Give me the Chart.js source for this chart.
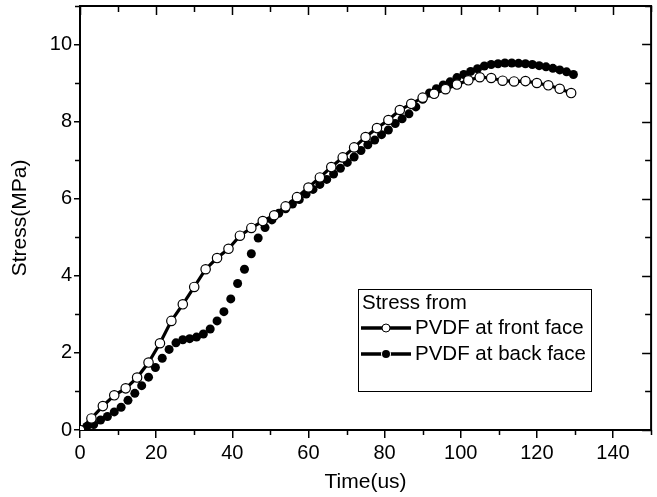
<!DOCTYPE html>
<html>
<head>
<meta charset="utf-8">
<script src="https://cdn.jsdelivr.net/npm/chart.js@4"></script>
<style>
  html, body { margin: 0; padding: 0; background: #fff; }
  #wrap { width: 657px; height: 497px; overflow: hidden; }
</style>
</head>
<body>
<div id="wrap"><canvas id="stressChart" width="657" height="497"></canvas></div>
<script>
// time (us) and stress (MPa)
const frontTime = [0, 3, 6, 9, 12, 15, 18, 21, 24, 27, 30, 33, 36, 39, 42, 45, 48, 51, 54, 57,
    60, 63, 66, 69, 72, 75, 78, 81, 84, 87, 90, 93, 96, 99, 102, 105, 108, 111, 114, 117,
    120, 123, 126, 129];
const frontStress = [0, 0.3, 0.62, 0.9, 1.08, 1.36, 1.75, 2.25, 2.83, 3.26, 3.71, 4.17, 4.46, 4.7, 5.04, 5.24, 5.42, 5.57, 5.8, 6.04,
    6.29, 6.55, 6.82, 7.07, 7.33, 7.6, 7.83, 8.04, 8.3, 8.46, 8.62, 8.72, 8.84, 8.96, 9.07, 9.15, 9.13, 9.06, 9.04, 9.05,
    9.0, 8.94, 8.85, 8.74];

const backTime = [1.8, 3.6, 5.4, 7.2, 9.0, 10.8, 12.6, 14.4, 16.2, 18.0,
    19.8, 21.6, 23.4, 25.2, 27.0, 28.8, 30.6, 32.4, 34.2, 36.0,
    37.8, 39.6, 41.4, 43.2, 45.0, 46.8, 48.6, 50.4, 52.2, 54.0,
    55.8, 57.6, 59.4, 61.2, 63.0, 64.8, 66.6, 68.4, 70.2, 72.0,
    73.8, 75.6, 77.4, 79.2, 81.0, 82.8, 84.6, 86.4, 88.2, 90.0,
    91.8, 93.6, 95.4, 97.2, 99.0, 100.8, 102.6, 104.4, 106.2, 108.0,
    109.8, 111.6, 113.4, 115.2, 117.0, 118.8, 120.6, 122.4, 124.2, 126.0,
    127.8, 129.6];
const backStress = [0.09, 0.14, 0.26, 0.35, 0.47, 0.59, 0.77, 0.95, 1.15, 1.37,
    1.62, 1.86, 2.09, 2.26, 2.34, 2.37, 2.41, 2.49, 2.62, 2.83,
    3.07, 3.40, 3.80, 4.17, 4.57, 4.98, 5.25, 5.45, 5.62, 5.74,
    5.86, 5.98, 6.12, 6.24, 6.37, 6.50, 6.64, 6.79, 6.94, 7.08,
    7.25, 7.40, 7.52, 7.66, 7.78, 7.95, 8.07, 8.20, 8.38, 8.58,
    8.74, 8.85, 8.95, 9.03, 9.14, 9.22, 9.30, 9.37, 9.44, 9.48,
    9.50, 9.52, 9.52, 9.51, 9.50, 9.48, 9.45, 9.42, 9.38, 9.34,
    9.29, 9.22];

const legendTitle = 'Stress from';
const seriesNames = ['PVDF at front face', 'PVDF at back face'];

const FONT = 'Arial, "Liberation Sans", sans-serif';

function toPoints(xs, ys) {
    const pts = [];
    for (let i = 0; i < xs.length; i++) {
        pts.push({x: xs[i], y: ys[i]});
    }
    return pts;
}

// minor ticks + mirrored ticks on top/right + the boxed legend
const framePlugin = {
    id: 'frame',
    afterDraw(chart) {
        const ctx = chart.ctx;
        const a = chart.chartArea;
        const xs = chart.scales.x;
        const ys = chart.scales.y;
        ctx.save();
        ctx.strokeStyle = '#000';
        ctx.lineWidth = 2;
        ctx.beginPath();
        ctx.moveTo(a.left - 1, a.top);
        ctx.lineTo(a.right, a.top);
        ctx.lineTo(a.right, a.bottom);
        ctx.stroke();

        ctx.lineWidth = 1.5;
        ctx.beginPath();
        for (let v = 0; v <= 150; v += 10) {
            const px = Math.round(xs.getPixelForValue(v)) + 0.5;
            const major = v % 20 === 0;
            ctx.moveTo(px, a.top);
            ctx.lineTo(px, a.top + (major ? 9 : 6));
            if (!major) {
                ctx.moveTo(px, a.bottom);
                ctx.lineTo(px, a.bottom + 5);
            }
        }
        for (let v = 0; v <= 11; v += 1) {
            const py = Math.round(ys.getPixelForValue(v)) + 0.5;
            const major = v % 2 === 0;
            ctx.moveTo(a.right, py);
            ctx.lineTo(a.right - (major ? 9 : 6), py);
            if (!major) {
                ctx.moveTo(a.left, py);
                ctx.lineTo(a.left - 5, py);
            }
        }
        ctx.stroke();

        // legend box
        const bx = 358, by = 289, bw = 233, bh = 102;
        ctx.fillStyle = '#fff';
        ctx.fillRect(bx, by, bw, bh);
        ctx.lineWidth = 1;
        ctx.strokeRect(bx + 0.5, by + 0.5, bw, bh);
        ctx.fillStyle = '#000';
        ctx.font = '20.5px ' + FONT;
        ctx.textBaseline = 'middle';
        ctx.textAlign = 'left';
        ctx.fillText(legendTitle, 362, 303);
        const rows = [328, 354];
        for (let i = 0; i < 2; i++) {
            const y = rows[i];
            ctx.lineWidth = 3.5;
            ctx.beginPath();
            ctx.moveTo(361, y);
            ctx.lineTo(411, y);
            ctx.stroke();
            ctx.beginPath();
            ctx.arc(386, y, 4, 0, Math.PI * 2);
            if (i === 0) {
                ctx.fillStyle = '#fff';
                ctx.fill();
                ctx.lineWidth = 1;
                ctx.strokeStyle = '#000';
                ctx.stroke();
            } else {
                ctx.fillStyle = '#000';
                ctx.lineWidth = 2;
                ctx.strokeStyle = '#fff';
                ctx.stroke();
                ctx.fill();
                ctx.strokeStyle = '#000';
            }
            ctx.fillStyle = '#000';
            ctx.fillText(seriesNames[i], 415, y);
        }
        ctx.restore();
    }
};

const ctx = document.getElementById('stressChart').getContext('2d');
const stressChart = new Chart(ctx, {
    type: 'scatter',
    data: {
        datasets: [{
            label: seriesNames[0],
            data: toPoints(frontTime, frontStress),
            showLine: true,
            borderColor: '#000',
            borderWidth: 3.2,
            tension: 0,
            pointRadius: 4.7,
            pointBorderWidth: 1.2,
            pointBorderColor: '#000',
            pointBackgroundColor: '#fff'
        }, {
            label: seriesNames[1],
            data: toPoints(backTime, backStress),
            showLine: false,
            borderColor: '#000',
            pointRadius: 4.5,
            pointBorderWidth: 0,
            pointBackgroundColor: '#000'
        }]
    },
    options: {
        responsive: false,
        animation: false,
        devicePixelRatio: 1,
        layout: { padding: { top: 5, right: -3, left: 0, bottom: 0 } },
        plugins: {
            legend: { display: false },
            tooltip: { enabled: false }
        },
        scales: {
            x: {
                type: 'linear',
                min: 0,
                max: 150,
                afterFit: s => { s.height = 67; s.paddingLeft = 0; s.paddingRight = 0; },
                ticks: { stepSize: 20, includeBounds: false, color: '#000', padding: 3,
                    font: { family: FONT, size: 20 } },
                grid: { drawOnChartArea: false, drawTicks: true, tickLength: 8, color: '#000', lineWidth: 1.5 },
                border: { color: '#000', width: 2 },
                title: { display: true, text: 'Time(us)', color: '#000',
                    font: { family: FONT, size: 21 }, padding: { top: 0, bottom: 2 } }
            },
            y: {
                type: 'linear',
                min: 0,
                max: 11,
                afterFit: s => { s.width = 80; s.paddingTop = 0; s.paddingBottom = 0; },
                ticks: { stepSize: 2, includeBounds: false, color: '#000', padding: 2,
                    font: { family: FONT, size: 20 } },
                grid: { drawOnChartArea: false, drawTicks: true, tickLength: 6, color: '#000', lineWidth: 1.5 },
                border: { color: '#000', width: 2 },
                title: { display: true, text: 'Stress(MPa)', color: '#000',
                    font: { family: FONT, size: 21 }, padding: { top: 8, bottom: 0 } }
            }
        }
    },
    plugins: [framePlugin]
});
</script>
</body>
</html>
